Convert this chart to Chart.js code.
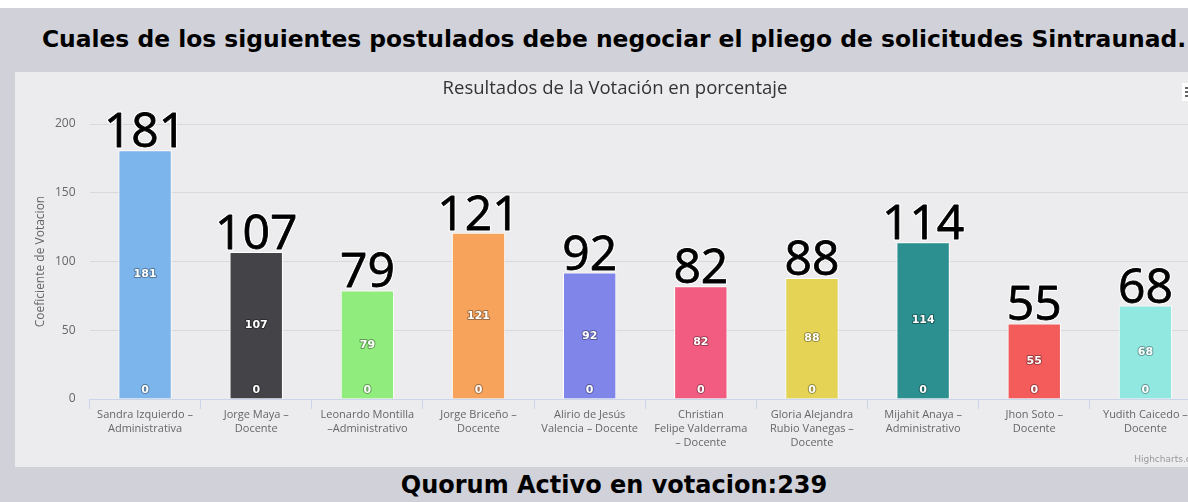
<!DOCTYPE html>
<html lang="es">
<head>
<meta charset="utf-8">
<title>Resultados de la Votación</title>
<script src="https://cdn.jsdelivr.net/npm/chart.js@4/dist/chart.umd.min.js"></script>
<style>
    html, body { margin: 0; padding: 0; }
    body {
        width: 1188px;
        height: 502px;
        overflow: hidden;
        position: relative;
        background: #d1d1d9;
        font-family: 'DejaVu Sans', sans-serif;
    }
    .strip { position: absolute; left: 0; top: 0; width: 1188px; height: 8px; background: #fff; }
    .heading {
        position: absolute; left: 0; top: 25px; width: 1228px;
        text-align: center; font-weight: bold; font-size: 23.4px; color: #000;
    }
    .panel {
        position: absolute; left: 15px; top: 72px; width: 1200px; height: 395px;
        background: #ececee;
    }
    .footer {
        position: absolute; left: 0; top: 471px; width: 1228px;
        text-align: center; font-weight: bold; font-size: 24px; color: #000;
    }
</style>
</head>
<body>
<div class="strip"></div>
<div class="heading">Cuales de los siguientes postulados debe negociar el pliego de solicitudes Sintraunad.</div>
<div class="panel"><canvas id="votosChart" width="1200" height="395"></canvas></div>
<div class="footer">Quorum Activo en votacion:239</div>

<script>
const titulo = 'Resultados de la Votación en porcentaje';
const candidatos = [
    ['Sandra Izquierdo –', 'Administrativa'],
    ['Jorge Maya –', 'Docente'],
    ['Leonardo Montilla', '–Administrativo'],
    ['Jorge Briceño –', 'Docente'],
    ['Alirio de Jesús', 'Valencia – Docente'],
    ['Christian', 'Felipe Valderrama', '– Docente'],
    ['Gloria Alejandra', 'Rubio Vanegas –', 'Docente'],
    ['Mijahit Anaya –', 'Administrativo'],
    ['Jhon Soto –', 'Docente'],
    ['Yudith Caicedo –', 'Docente'],
];
const votos = [181, 107, 79, 121, 92, 82, 88, 114, 55, 68];
const colores = ['#7cb5ec', '#434348', '#90ed7d', '#f7a35c', '#8085e9', '#f15c80', '#e4d354', '#2b908f', '#f45b5b', '#91e8e1'];
const yTicks = [0, 50, 100, 150, 200];

// titulo centrado en todo el panel, como en highcharts
const tituloPanel = {
    id: 'tituloPanel',
    afterDraw(chart) {
        const { ctx } = chart;
        ctx.save();
        ctx.font = '18.5px "Open Sans", sans-serif';
        ctx.fillStyle = '#333333';
        ctx.textAlign = 'center';
        ctx.textBaseline = 'middle';
        ctx.fillText(titulo, chart.width / 2, 17);

        ctx.font = '9px "DejaVu Sans", sans-serif';
        ctx.fillStyle = '#999';
        ctx.textAlign = 'right';
        ctx.textBaseline = 'alphabetic';
        ctx.fillText('Highcharts.com', chart.width - 10, chart.height - 5);

        // boton de menu
        ctx.fillStyle = '#fff';
        ctx.fillRect(1167, 11, 20, 18);
        ctx.fillStyle = '#666';
        [15, 19, 23].forEach((yy) => ctx.fillRect(1170, yy, 12, 2));
        ctx.restore();
    },
};

// etiquetas: numero grande arriba, valor al centro y 0 en la base
const etiquetas = {
    id: 'etiquetas',
    afterDatasetsDraw(chart) {
        const { ctx } = chart;
        const y = chart.scales.y;
        const meta = chart.getDatasetMeta(0);
        ctx.save();
        ctx.textAlign = 'center';
        ctx.lineJoin = 'round';
        meta.data.forEach((bar, i) => {
            const v = votos[i];
            ctx.font = '48px "Open Sans", sans-serif';
            ctx.textBaseline = 'alphabetic';
            ctx.lineWidth = 3;
            ctx.strokeStyle = '#ffffff';
            ctx.strokeText(String(v), bar.x, bar.y - 3);
            ctx.fillStyle = '#000';
            ctx.fillText(String(v), bar.x, bar.y - 3);
            ctx.lineWidth = 0.8;
            ctx.strokeStyle = '#000';
            ctx.strokeText(String(v), bar.x, bar.y - 3);

            ctx.font = 'bold 11px "DejaVu Sans", sans-serif';
            ctx.textBaseline = 'middle';
            ctx.lineWidth = 2;
            ctx.strokeStyle = 'rgba(0,0,0,0.35)';
            ctx.fillStyle = '#fff';
            const mid = y.getPixelForValue(v / 2);
            ctx.strokeText(String(v), bar.x, mid);
            ctx.fillText(String(v), bar.x, mid);
            const base = y.getPixelForValue(0) - 9;
            ctx.strokeText('0', bar.x, base);
            ctx.fillText('0', bar.x, base);
        });
        ctx.restore();
    },
};

new Chart(document.getElementById('votosChart'), {
    type: 'bar',
    data: {
        labels: candidatos,
        datasets: [{
            data: votos,
            backgroundColor: colores,
            borderColor: '#ffffff',
            borderWidth: 1,
            borderSkipped: 'bottom',
            categoryPercentage: 1,
            barPercentage: 0.48,
        }],
    },
    options: {
        responsive: false,
        animation: false,
        layout: { padding: { left: 0, right: 14, top: 52, bottom: 0 } },
        plugins: {
            legend: { display: false },
            tooltip: { enabled: false },
            title: { display: false },
        },
        scales: {
            x: {
                offset: true,
                grid: { offset: true, drawOnChartArea: false, color: '#ccd6eb', tickLength: 10 },
                border: { color: '#ccd6eb' },
                ticks: {
                    color: '#666666',
                    font: { family: '"Open Sans", sans-serif', size: 11, lineHeight: 1.27 },
                    maxRotation: 0,
                    autoSkip: false,
                    padding: -1,
                },
                afterFit(scale) { scale.height = 68; },
            },
            y: {
                min: 0,
                max: 200,
                afterBuildTicks(scale) { scale.ticks = yTicks.map((value) => ({ value })); },
                grid: { color: '#d9d9dc', drawTicks: false },
                border: { display: false },
                ticks: {
                    color: '#666666',
                    font: { family: '"Open Sans", sans-serif', size: 12 },
                    padding: 14,
                },
                title: {
                    display: true,
                    text: 'Coeficiente de Votacion',
                    color: '#666666',
                    font: { family: '"Open Sans", sans-serif', size: 12 },
                    padding: { top: 18, bottom: 0 },
                },
                afterFit(scale) { scale.width = 74.5; },
            },
        },
    },
    plugins: [etiquetas, tituloPanel],
});
</script>
</body>
</html>
